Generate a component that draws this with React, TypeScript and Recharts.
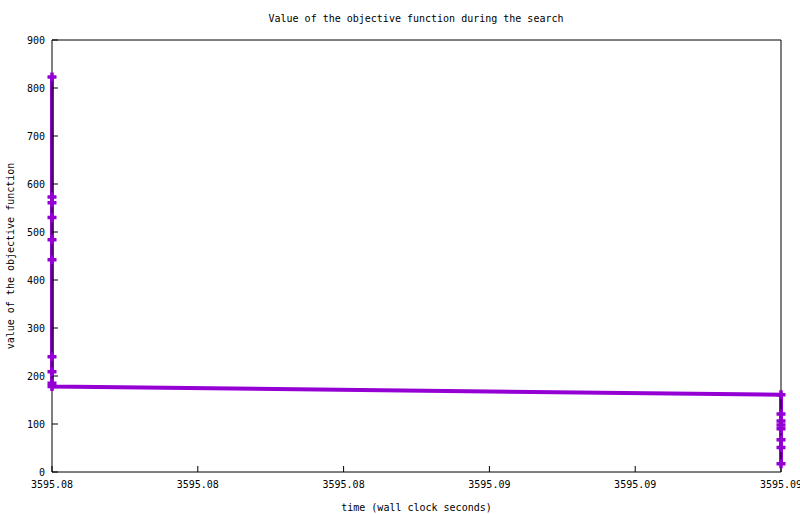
import { Line, LineChart, XAxis, YAxis } from "recharts";

const times = [
  3595.078, 3595.078, 3595.078, 3595.078, 3595.078, 3595.078, 3595.078, 3595.078, 3595.078, 3595.078,
  3595.093, 3595.093, 3595.093, 3595.093, 3595.093, 3595.093, 3595.093, 3595.093,
];
const objective = [823, 573, 561, 530, 484, 442, 240, 209, 185, 178, 161, 121, 106, 98, 90, 67, 51, 17];
const xTicks = [3595.078, 3595.081, 3595.084, 3595.087, 3595.09, 3595.093];
const yTicks = [0, 100, 200, 300, 400, 500, 600, 700, 800, 900];

const data = times.map((t, i) => ({ t, value: objective[i] }));

const font = "'DejaVu Sans Mono', monospace";
const purple = "#9400D3";
const tickStyle = { fontSize: 10, fill: "#000", fontFamily: font };

function PlusDot(props: any) {
  const { cx, cy, index } = props;
  if (cx == null || cy == null) return <g key={index} />;
  const s = 4.5;
  return (
    <path
      key={index}
      d={`M${cx - s},${cy}H${cx + s}M${cx},${cy - s}V${cy + s}`}
      stroke={purple}
      strokeWidth={3.5}
      fill="none"
    />
  );
}

export default function App() {
  return (
    <div style={{ position: "absolute", left: 0, top: 0, width: 800, height: 514, background: "#fff", fontFamily: font }}>
      <div style={{ position: "absolute", left: 16, top: 13, width: 800, textAlign: "center", fontSize: 10, lineHeight: "12px" }}>
        Value of the objective function during the search
      </div>
      <div
        style={{
          position: "absolute",
          left: 11,
          top: 256,
          fontSize: 10,
          lineHeight: "12px",
          whiteSpace: "nowrap",
          transform: "translate(-50%, -50%) rotate(-90deg)",
        }}
      >
        value of the objective function
      </div>
      <LineChart width={800} height={514} data={data} margin={{ top: 0, right: 0, bottom: 0, left: 0 }}>
        <Line
          xAxisId="b"
          yAxisId="l"
          type="linear"
          dataKey="value"
          stroke={purple}
          strokeWidth={4}
          dot={PlusDot}
          activeDot={false}
          isAnimationActive={false}
        />
        <XAxis
          xAxisId="b"
          dataKey="t"
          type="number"
          orientation="bottom"
          domain={[3595.078, 3595.093]}
          ticks={xTicks}
          interval={0}
          height={42}
          tickSize={-6}
          tickMargin={15}
          tickFormatter={(v: number) => v.toFixed(2)}
          tick={tickStyle}
          stroke="#000"
          label={{ value: "time (wall clock seconds)", position: "insideBottom", offset: 3, style: tickStyle }}
        />
        <XAxis
          xAxisId="t"
          type="number"
          orientation="top"
          domain={[3595.078, 3595.093]}
          ticks={xTicks}
          interval={0}
          height={40}
          tickSize={-6}
          tick={false}
          stroke="#000"
        />
        <YAxis
          yAxisId="l"
          type="number"
          orientation="left"
          domain={[0, 900]}
          ticks={yTicks}
          interval={0}
          width={52}
          tickSize={-6}
          tickMargin={13}
          tick={tickStyle}
          stroke="#000"
        />
        <YAxis
          yAxisId="r"
          type="number"
          orientation="right"
          domain={[0, 900]}
          ticks={yTicks}
          interval={0}
          width={19}
          tickSize={-6}
          tick={false}
          stroke="#000"
        />
      </LineChart>
    </div>
  );
}
